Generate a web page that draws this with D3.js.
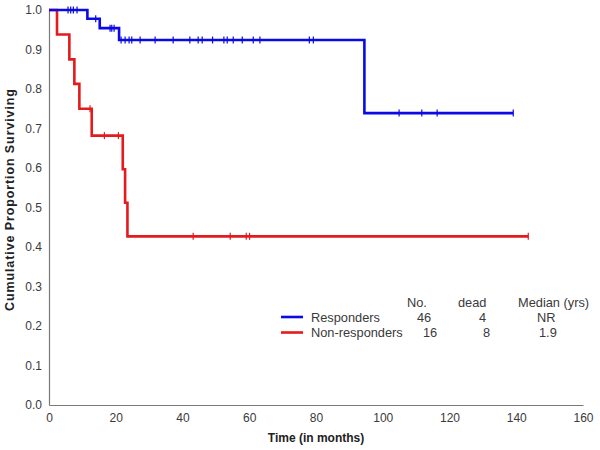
<!DOCTYPE html>
<html>
<head>
<meta charset="utf-8">
<script src="https://cdn.jsdelivr.net/npm/d3@7"></script>
<style>
  html, body { margin: 0; padding: 0; background: #fff; }
  svg { display: block; font-family: Arial, "Liberation Sans", sans-serif; }
</style>
</head>
<body>
<svg id="chart" width="600" height="450"></svg>
<script>
// ---- data ----
const seriesNames = ["Responders", "Non-responders"];
const seriesColors = ["#0a0ae6", "#e41a1c"];

// Responders: event (death) times and survival after each event
const respEventTimes = [11.5, 15.2, 21.0, 94.5];
const respEventSurv  = [0.978, 0.954, 0.924, 0.739];
const respCensorTimes = [5.7, 6.5, 7.3, 8.4, 14.0, 18.3, 18.8, 19.5, 21.6, 22.8, 24.0, 24.8,
  27.3, 31.8, 37.2, 42.2, 44.7, 45.9, 49.0, 52.4, 53.4, 55.2, 57.9, 61.2, 63.2, 78.0, 79.2,
  104.9, 111.7, 116.3, 139.1];

// Non-responders
const nonEventTimes = [2.4, 6.1, 7.6, 9.1, 12.8, 22.1, 22.8, 23.5];
const nonEventSurv  = [0.938, 0.875, 0.813, 0.75, 0.682, 0.597, 0.512, 0.427];
const nonCensorTimes = [12.3, 16.6, 20.8, 43.2, 54.3, 59.1, 60.1, 143.6];

// Legend table
const tableHeaders = ["No.", "dead", "Median (yrs)"];
const tableNo = [46, 16];
const tableDead = [4, 8];
const tableMedian = ["NR", "1.9"];

const xTicks = [0, 20, 40, 60, 80, 100, 120, 140, 160];
const yTicks = [0, 0.1, 0.2, 0.3, 0.4, 0.5, 0.6, 0.7, 0.8, 0.9, 1.0];

// ---- drawing ----
const svg = d3.select("#chart");
const x = d3.scaleLinear().domain([0, 160]).range([49, 583]);
const y = d3.scaleLinear().domain([0, 1]).range([405, 10]);
const axisColor = "#7a7a7a";
const textColor = "#3a3a3a";

// axes
const gx = svg.append("g").attr("transform", `translate(0,${y(0)})`)
  .call(d3.axisBottom(x).tickValues(xTicks).tickSize(0).tickPadding(8).tickFormat(d3.format("d")));
const gy = svg.append("g").attr("transform", `translate(${x(0)},0)`)
  .call(d3.axisLeft(y).tickValues(yTicks).tickSize(0).tickPadding(7).tickFormat(d3.format(".1f")));
[gx, gy].forEach(g => {
  g.select(".domain").attr("stroke", axisColor).attr("stroke-width", 1.2);
  g.selectAll("text").attr("fill", textColor).style("font-size", "12px")
    .style("font-family", "Arial, 'Liberation Sans', sans-serif");
});

// axis titles
svg.append("text")
  .attr("x", 316).attr("y", 442).attr("text-anchor", "middle")
  .style("font-weight", "bold").style("font-size", "12px").attr("fill", "#222")
  .text("Time (in months)");
svg.append("text")
  .attr("transform", `translate(14,200) rotate(-90)`).attr("text-anchor", "middle")
  .style("font-weight", "bold").style("font-size", "12.5px").attr("fill", "#222")
  .attr("textLength", 222).attr("lengthAdjust", "spacing")
  .text("Cumulative Proportion Surviving");

function stepPoints(eventTimes, eventSurv, endTime) {
  const pts = [[0, 1]];
  let s = 1;
  eventTimes.forEach((t, i) => {
    pts.push([t, s]);
    s = eventSurv[i];
    pts.push([t, s]);
  });
  pts.push([endTime, s]);
  return pts;
}
function survAt(t, eventTimes, eventSurv) {
  let s = 1;
  eventTimes.forEach((et, i) => { if (et <= t) s = eventSurv[i]; });
  return s;
}

const series = [
  { ev: respEventTimes, sv: respEventSurv, cens: respCensorTimes },
  { ev: nonEventTimes, sv: nonEventSurv, cens: nonCensorTimes }
];

const line = d3.line().x(d => x(d[0])).y(d => y(d[1]));

// draw red first so blue lies over it at top
[1, 0].forEach(k => {
  const s = series[k];
  const endT = d3.max(s.cens);
  svg.append("path")
    .datum(stepPoints(s.ev, s.sv, endT))
    .attr("d", line)
    .attr("fill", "none")
    .attr("stroke", seriesColors[k])
    .attr("stroke-width", 2.6)
    .attr("stroke-linejoin", "miter");
  svg.append("g").selectAll("line")
    .data(s.cens)
    .join("line")
    .attr("x1", d => x(d)).attr("x2", d => x(d))
    .attr("y1", d => y(survAt(d, s.ev, s.sv)) - 3.5)
    .attr("y2", d => y(survAt(d, s.ev, s.sv)) + 3.5)
    .attr("stroke", seriesColors[k])
    .attr("stroke-width", 1.2);
});

// legend table
const lg = svg.append("g").style("font-size", "12.8px").attr("fill", textColor);
const headerX = [407, 458, 518];
tableHeaders.forEach((h, i) => {
  lg.append("text").attr("x", headerX[i]).attr("y", 307).attr("fill", textColor).text(h);
});
const rowY = [317, 332.5];
const noX = [417, 423], deadX = [479, 483], medX = [537, 539];
seriesNames.forEach((name, i) => {
  lg.append("line").attr("x1", 281).attr("x2", 303).attr("y1", rowY[i]).attr("y2", rowY[i])
    .attr("stroke", seriesColors[i]).attr("stroke-width", 2.6);
  lg.append("text").attr("x", 311).attr("y", rowY[i] + 4.5).attr("fill", textColor).text(name);
  lg.append("text").attr("x", noX[i]).attr("y", rowY[i] + 4.5).attr("fill", textColor).text(tableNo[i]);
  lg.append("text").attr("x", deadX[i]).attr("y", rowY[i] + 4.5).attr("fill", textColor).text(tableDead[i]);
  lg.append("text").attr("x", medX[i]).attr("y", rowY[i] + 4.5).attr("fill", textColor).text(tableMedian[i]);
});
</script>
</body>
</html>
